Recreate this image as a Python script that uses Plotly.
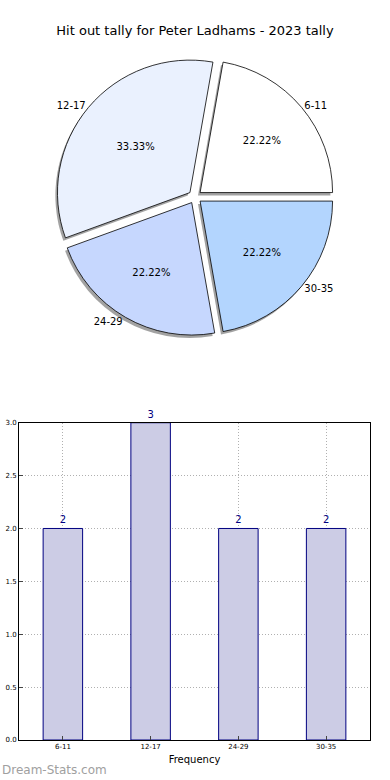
import plotly.graph_objects as go

categories = ["6-11", "12-17", "24-29", "30-35"]
counts = [2, 3, 2, 2]
pie_colors = ["#ffffff", "#eaf1fe", "#c6d7fe", "#b3d5fe"]
title_text = "Hit out tally for Peter Ladhams - 2023 tally"
y_ticks = [0.0, 0.5, 1.0, 1.5, 2.0, 2.5, 3.0]

FONT = "DejaVu Sans"
pie_dom_x = [0.094, 0.909]
pie_dom_y = [0.549, 0.927]
pull = [0.05] * len(counts)

fig = go.Figure()

# shadow pie
fig.add_trace(go.Pie(
    labels=categories, values=counts, sort=False, direction="counterclockwise",
    rotation=10, pull=pull, marker=dict(colors=["#8c8c8c"] * 4, line=dict(width=0)),
    textinfo="none", hoverinfo="skip", showlegend=False,
    domain=dict(x=[pie_dom_x[0] - 0.006, pie_dom_x[1] - 0.006], y=[pie_dom_y[0] - 0.004, pie_dom_y[1] - 0.004]),
    opacity=0.8,
))
# main pie with percents inside
fig.add_trace(go.Pie(
    labels=categories, values=counts, sort=False, direction="counterclockwise",
    rotation=10, pull=pull, marker=dict(colors=pie_colors, line=dict(color="#000000", width=0.8)),
    texttemplate="%{percent:.2%}", textposition="inside", insidetextorientation="horizontal",
    textfont=dict(family=FONT, size=10, color="#000000"), showlegend=False,
    domain=dict(x=pie_dom_x, y=pie_dom_y),
))
# labels outside
fig.add_trace(go.Pie(
    labels=categories, values=counts, sort=False, direction="counterclockwise",
    rotation=10, pull=pull, marker=dict(colors=["rgba(0,0,0,0)"] * 4, line=dict(width=0)),
    textinfo="label", textposition="outside", outsidetextfont=dict(family=FONT, size=10, color="#000000"),
    showlegend=False, hoverinfo="skip", domain=dict(x=pie_dom_x, y=pie_dom_y),
))

fig.add_trace(go.Bar(
    x=categories, y=counts, width=0.45,
    marker=dict(color="#ccccE5", line=dict(color="#000080", width=1)),
    text=counts, textposition="outside", textfont=dict(family=FONT, size=10, color="#000080"),
    cliponaxis=False, showlegend=False,
))

fig.update_layout(
    width=390, height=780,
    margin=dict(l=19, r=20, t=0, b=40),
    paper_bgcolor="white", plot_bgcolor="white",
    font=dict(family=FONT, color="#000000"),
    title=dict(text=title_text, x=0.5, xanchor="center", y=1 - 30 / 780, yanchor="middle",
               font=dict(family=FONT, size=13, color="#000000")),
    xaxis=dict(domain=[0, 1], range=[-0.5, 3.5], showline=True, mirror=True, linecolor="#000000", linewidth=1,
               showgrid=True, gridcolor="#b0b0b0", griddash="1px,2px", ticks="inside", ticklen=4,
               tickfont=dict(family=FONT, size=7), title=dict(text="Frequency", font=dict(family=FONT, size=10), standoff=5)),
    yaxis=dict(domain=[0, (740 - 421) / 740], range=[0, 3], tickvals=y_ticks,
               ticktext=[f"{v:.1f}" for v in y_ticks], showline=True, mirror=True, linecolor="#000000", linewidth=1,
               showgrid=True, gridcolor="#b0b0b0", griddash="1px,2px", ticks="inside", ticklen=4,
               tickfont=dict(family=FONT, size=7), zeroline=False),
    annotations=[dict(text="Dream-Stats.com", xref="paper", yref="paper", x=-19 / 351, y=-30 / 740,
                      xanchor="left", yanchor="middle", showarrow=False,
                      font=dict(family=FONT, size=12, color="#a0a0a0"))],
)

fig.write_html("out.html", config={"displayModeBar": False},
               post_script="document.body.style.margin='0';")
